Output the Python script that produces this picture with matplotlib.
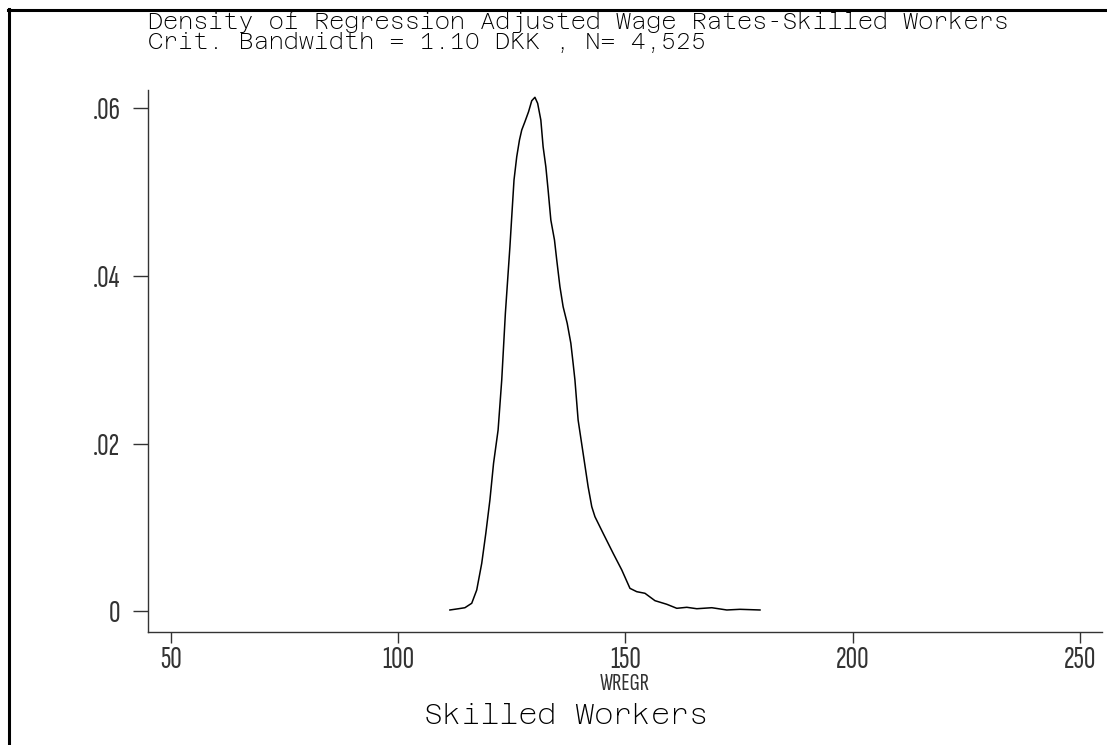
import matplotlib
matplotlib.use("Agg")
import matplotlib.pyplot as plt
from matplotlib.lines import Line2D

# kernel density estimate (wage rate, density)
wage = [111.4, 113.3, 114.7, 116.2, 117.3, 118.4, 119.3, 120.2, 121.0, 122.0,
        122.8, 123.2, 123.6, 124.1, 124.6, 125.0, 125.5, 126.1, 126.7, 127.2,
        127.9, 128.7, 129.4, 130.1, 130.7, 131.4, 131.9, 132.5, 133.0, 133.6,
        134.4, 134.9, 135.6, 136.3, 137.2, 138.0, 138.5, 138.9, 139.6, 140.7,
        141.8, 142.6, 143.3, 145.1, 147.3, 149.2, 151.0, 152.5, 154.3, 156.5,
        159.1, 161.3, 163.5, 165.7, 169.0, 172.3, 175.2, 179.6]
density = [0.00017, 0.00032, 0.00044, 0.00097, 0.00255, 0.00573, 0.00931, 0.01328,
           0.01765, 0.02162, 0.02758, 0.03155, 0.03553, 0.03950, 0.04347, 0.04704,
           0.05142, 0.05420, 0.05619, 0.05738, 0.05837, 0.05956, 0.06087, 0.06128,
           0.06056, 0.05857, 0.05539, 0.05300, 0.05023, 0.04665, 0.04427, 0.04188,
           0.03870, 0.03632, 0.03434, 0.03196, 0.02957, 0.02758, 0.02281, 0.01884,
           0.01486, 0.01248, 0.01129, 0.00931, 0.00693, 0.00494, 0.00275, 0.00235,
           0.00216, 0.00128, 0.00085, 0.00037, 0.00049, 0.00032, 0.00044, 0.00017,
           0.00025, 0.00017]

xticks = [50, 100, 150, 200, 250]
yticks = [0, 0.02, 0.04, 0.06]
ylabels = ["0", ".02", ".04", ".06"]

title1 = "Density of Regression Adjusted Wage Rates-Skilled Workers"
title2 = "Crit. Bandwidth = 1.10 DKK , N= 4,525"

narrow = ["Sofia Sans Extra Condensed", "DejaVu Sans"]
mono = ["Azeret Mono", "DejaVu Sans Mono"]
grey = "#333333"

W, H = 1107, 745
fig = plt.figure(figsize=(W / 100, H / 100), dpi=100)
ax = fig.add_axes([148.3 / W, 1 - 632.3 / H, (1101.7 - 148.3) / W, (632.3 - 90) / H])

ax.plot(wage, density, color="black", linewidth=1.1)
ax.set_xlim(45.07, 254.75)
ax.set_ylim(-0.00249, 0.06215)

ax.spines["top"].set_visible(False)
ax.spines["right"].set_visible(False)
for s in ["left", "bottom"]:
    ax.spines[s].set_color(grey)
    ax.spines[s].set_linewidth(1.0)

ax.set_xticks(xticks)
ax.set_xticklabels([str(t) for t in xticks], family=narrow, fontsize=23,
                   fontweight="light", color=grey)
ax.set_yticks(yticks)
ax.set_yticklabels(ylabels, family=narrow, fontsize=23, fontweight="light", color=grey)
ax.tick_params(axis="x", direction="out", length=8, width=1.0, color=grey, pad=2)
ax.tick_params(axis="y", direction="out", length=11, width=1.0, color=grey, pad=9)

ax.set_xlabel("WREGR", family=narrow, fontsize=18, fontweight="light", color=grey, labelpad=-1)

fig.text(148 / W, 1 - 29.3 / H, title1, family=mono, fontsize=16.7, va="baseline", ha="left")
fig.text(148 / W, 1 - 49.3 / H, title2, family=mono, fontsize=16.7, va="baseline", ha="left")
fig.text(566 / W, 1 - 724 / H, "Skilled Workers", family=mono, fontsize=21,
         va="baseline", ha="center")

# frame lines at top and left of the graph window
fig.add_artist(Line2D([8 / W, 1], [1 - 10 / H, 1 - 10 / H], color="black", linewidth=2.2))
fig.add_artist(Line2D([9 / W, 9 / W], [1 - 9 / H, 0], color="black", linewidth=2.2))

fig.savefig("out.png", dpi=100)
